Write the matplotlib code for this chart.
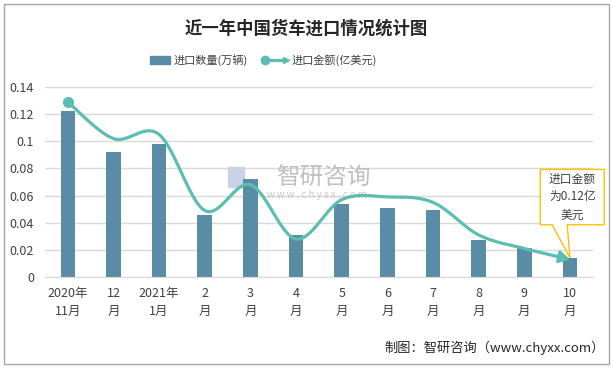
import numpy as np
import matplotlib
matplotlib.use('Agg')
import matplotlib.pyplot as plt
from matplotlib.patches import Rectangle, Polygon
from matplotlib.lines import Line2D

plt.rcParams['font.family'] = ['Noto Sans CJK SC', 'DejaVu Sans']

# 数据
months = ['2020年\n11月', '12\n月', '2021年\n1月', '2\n月', '3\n月', '4\n月',
          '5\n月', '6\n月', '7\n月', '8\n月', '9\n月', '10\n月']
qty = [0.122, 0.092, 0.098, 0.046, 0.072, 0.031, 0.054, 0.051, 0.049, 0.027, 0.021, 0.014]
amount = [0.129, 0.102, 0.105, 0.049, 0.068, 0.028, 0.057, 0.059, 0.055, 0.031, 0.021, 0.013]
yticks = [0, 0.02, 0.04, 0.06, 0.08, 0.1, 0.12, 0.14]
ytick_labels = ['0', '0.02', '0.04', '0.06', '0.08', '0.1', '0.12', '0.14']

bar_color = '#5b8ca6'
line_color = '#5cbdb3'


def smooth(xs, ys, n=30):
    # Excel风格的平滑线 (Catmull-Rom 转贝塞尔)
    xs = np.asarray(xs, float)
    ys = np.asarray(ys, float)
    px, py = [], []
    for i in range(len(xs) - 1):
        x0, y0 = (xs[i - 1], ys[i - 1]) if i > 0 else (xs[i], ys[i])
        x1, y1 = xs[i], ys[i]
        x2, y2 = xs[i + 1], ys[i + 1]
        x3, y3 = (xs[i + 2], ys[i + 2]) if i + 2 < len(xs) else (x2, y2)
        c1x, c1y = x1 + (x2 - x0) / 6, y1 + (y2 - y0) / 6
        c2x, c2y = x2 - (x3 - x1) / 6, y2 - (y3 - y1) / 6
        t = np.linspace(0, 1, n, endpoint=False)
        px.extend((1 - t) ** 3 * x1 + 3 * (1 - t) ** 2 * t * c1x + 3 * (1 - t) * t ** 2 * c2x + t ** 3 * x2)
        py.extend((1 - t) ** 3 * y1 + 3 * (1 - t) ** 2 * t * c1y + 3 * (1 - t) * t ** 2 * c2y + t ** 3 * y2)
    px.append(xs[-1])
    py.append(ys[-1])
    return np.array(px), np.array(py)


fig = plt.figure(figsize=(6.13, 3.68), dpi=100)
fig.add_artist(Rectangle((0.006, 0.01), 0.988, 0.98, transform=fig.transFigure,
                         fill=False, edgecolor='#a6a6a6', linewidth=1))

ax = fig.add_axes([0.0734, 0.2473, 0.8936, 0.5163])
x = np.arange(len(months))
ax.bar(x, qty, width=0.32, color=bar_color, zorder=2)

sx, sy = smooth(x, amount)
ax.plot(sx[:-6], sy[:-6], color=line_color, linewidth=2.3, zorder=3, solid_capstyle='round')
ax.annotate('', xy=(sx[-1], sy[-1]), xytext=(sx[-8], sy[-8]),
            arrowprops=dict(arrowstyle='-|>,head_length=0.6,head_width=0.35',
                            color=line_color, lw=2.3, shrinkA=0, shrinkB=0), zorder=3)
ax.plot(x[0], amount[0], 'o', color=line_color, markersize=7, zorder=4)

ax.set_xlim(-0.5, len(months) - 0.5)
ax.set_ylim(0, 0.14)
ax.set_yticks(yticks)
ax.set_yticklabels(ytick_labels)
ax.set_xticks(x)
ax.set_xticklabels(months, fontsize=9, linespacing=1.5)
ax.tick_params(axis='both', length=0, labelsize=9, colors='#404040')
ax.tick_params(axis='x', pad=7)
ax.tick_params(axis='y', pad=8)
ax.grid(axis='y', color='#d9d9d9', linewidth=1, zorder=0)
ax.set_axisbelow(True)
for s in ['top', 'right', 'left']:
    ax.spines[s].set_visible(False)
ax.spines['bottom'].set_color('#d9d9d9')

# 水印
ax.text(5.6, 0.073, '智研咨询', fontsize=17, color='#c0c0c0', ha='center', va='center', zorder=1)
ax.text(5.45, 0.0605, 'w w w . c h y x x . c o m', fontsize=7, color='#c8c8c8',
        ha='center', va='center', zorder=1)
ax.add_patch(Rectangle((3.5, 0.066), 0.35, 0.015, color='#c9d3e3', zorder=1))

# 标注框
callout = Polygon([(10.35, 0.0793), (11.75, 0.0793), (11.75, 0.0385), (10.94, 0.0385),
                   (11.0, 0.0141), (10.61, 0.0385), (10.35, 0.0385)],
                  closed=True, facecolor='white', edgecolor='#ffc000', linewidth=1,
                  zorder=5, clip_on=False)
ax.add_patch(callout)
ax.text(11.05, 0.059, '进口金额\n为0.12亿\n美元', fontsize=8.5, color='#404040',
        ha='center', va='center', linespacing=1.5, zorder=6)

# 标题
fig.text(0.5, 0.922, '近一年中国货车进口情况统计图', fontsize=12.5, fontweight='bold',
         color='#262626', ha='center', va='center')

# 图例
fig.add_artist(Rectangle((150 / 613, 1 - 64 / 368), 20 / 613, 8 / 368,
                         transform=fig.transFigure, color=bar_color))
fig.text(174 / 613, 1 - 60 / 368, '进口数量(万辆)', fontsize=8, color='#404040', va='center')
fig.add_artist(Line2D([265 / 613, 283 / 613], [1 - 60 / 368, 1 - 60 / 368],
                      transform=fig.transFigure, color=line_color, linewidth=2.3))
fig.add_artist(Line2D([265 / 613], [1 - 60 / 368], transform=fig.transFigure,
                      marker='o', color=line_color, markersize=6))
fig.add_artist(Line2D([286 / 613], [1 - 60 / 368], transform=fig.transFigure,
                      marker='>', color=line_color, markersize=5))
fig.text(292 / 613, 1 - 60 / 368, '进口金额(亿美元)', fontsize=8, color='#404040', va='center')

# 来源
fig.text(605 / 613, 1 - 348 / 368, '制图：智研咨询（www.chyxx.com）', fontsize=9.5,
         color='#262626', ha='right', va='center')

fig.savefig('out.png', dpi=100)
